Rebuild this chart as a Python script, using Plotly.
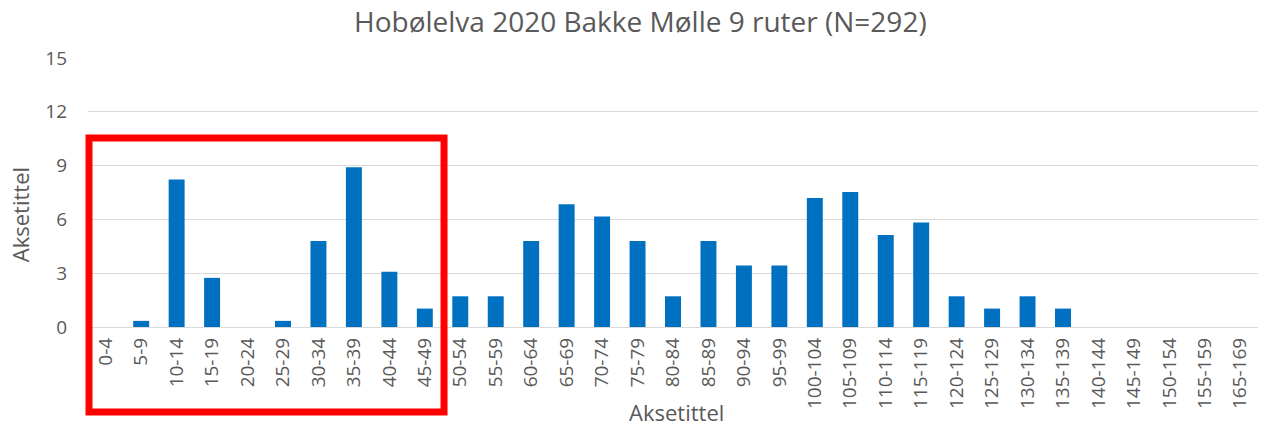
import plotly.graph_objects as go

categories = ["0-4", "5-9", "10-14", "15-19", "20-24", "25-29", "30-34", "35-39", "40-44", "45-49",
              "50-54", "55-59", "60-64", "65-69", "70-74", "75-79", "80-84", "85-89", "90-94", "95-99",
              "100-104", "105-109", "110-114", "115-119", "120-124", "125-129", "130-134", "135-139",
              "140-144", "145-149", "150-154", "155-159", "165-169"]
counts = [0, 1, 24, 8, 0, 1, 14, 26, 9, 3,
          5, 5, 14, 20, 18, 14, 5, 14, 10, 10,
          21, 22, 15, 17, 5, 3, 5, 3,
          0, 0, 0, 0, 0]
N = 292
values = [c / N * 100 for c in counts]
y_ticks = [0, 3, 6, 9, 12, 15]

font = "Open Sans, sans-serif"
grey = "#595959"

fig = go.Figure(go.Bar(x=categories, y=values, marker=dict(color="#0070c0", line=dict(width=0))))

fig.update_layout(
    width=1263, height=430,
    margin=dict(l=88, r=5, t=58, b=103, autoexpand=False),
    paper_bgcolor="white", plot_bgcolor="white",
    bargap=0.55,
    showlegend=False,
    title=dict(text="Hobølelva 2020 Bakke Mølle 9 ruter (N=292)", x=0.507, xanchor="center",
               xref="container", y=0.949, yanchor="middle", yref="container",
               font=dict(family=font, size=28, color=grey)),
    font=dict(family=font, color=grey),
)
fig.update_xaxes(type="category", tickangle=-90, tickfont=dict(size=19, color=grey),
                 showgrid=False, showline=False, ticks="", automargin=False,
                 ticklabelstandoff=6)
fig.update_yaxes(range=[0, 15], tickvals=y_ticks, tickfont=dict(size=19, color=grey),
                 showgrid=True, gridcolor="#d9d9d9", gridwidth=1, zeroline=True,
                 zerolinecolor="#d9d9d9", zerolinewidth=1, showline=False, ticks="",
                 ticklabelstandoff=20, automargin=False)

fig.add_annotation(text="Aksetittel", xref="paper", yref="paper", x=0.5034, y=-0.316,
                   xanchor="center", yanchor="middle", showarrow=False,
                   font=dict(family=font, size=22, color=grey))
fig.add_annotation(text="Aksetittel", xref="paper", yref="paper", x=-0.058, y=0.416,
                   xanchor="center", yanchor="middle", showarrow=False, textangle=-90,
                   font=dict(family=font, size=22, color=grey))

fig.add_shape(type="rect", xref="paper", yref="paper",
              x0=0.00085, x1=0.3043, y0=-0.316, y1=0.7026,
              line=dict(color="#ff0000", width=7), fillcolor="rgba(0,0,0,0)", layer="above")

fig.write_html("out.html", config={"displayModeBar": False},
               post_script="document.body.style.margin='0';document.body.style.overflow='hidden';")
